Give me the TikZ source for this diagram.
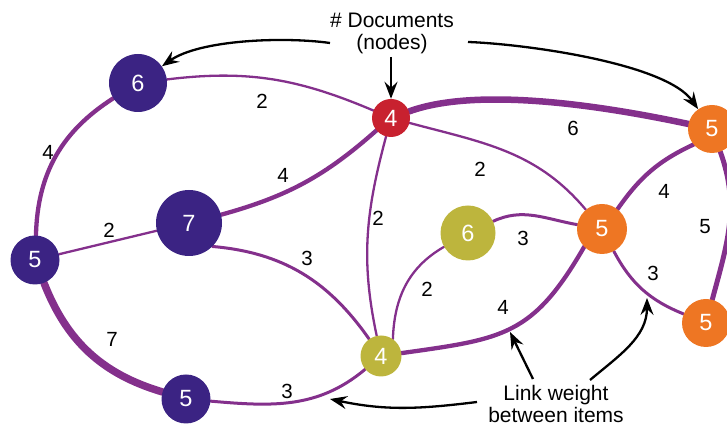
\documentclass[tikz,border=0pt]{standalone}
\usepackage{fontspec}
\setmainfont{Liberation Sans}
\usetikzlibrary{arrows.meta,backgrounds}
\definecolor{navy}{HTML}{3B2383}
\definecolor{ruby}{HTML}{C8212F}
\definecolor{tangerine}{HTML}{EE7623}
\definecolor{oliv}{HTML}{BDB53D}
\definecolor{edgec}{HTML}{84308C}
\begin{document}
\begin{tikzpicture}[x=1pt,y=1pt,
  doc/.style={circle,inner sep=0pt,text=white,font=\fontsize{23.5}{23.5}\selectfont},
  lbl/.style={inner sep=0pt,font=\fontsize{20.5}{20.5}\selectfont},
  note/.style={inner sep=0pt,align=center,font=\fontsize{21}{22}\selectfont},
  link/.style={draw=edgec,line cap=round},
  w2/.style={link,line width=2.3pt},
  w3/.style={link,line width=3pt},
  w4/.style={link,line width=4.3pt},
  w5/.style={link,line width=5pt},
  w6/.style={link,line width=6.5pt},
  w7/.style={link,line width=7.5pt},
  arr/.style={draw=black,line width=2.3pt,-{Stealth[length=17pt,width=13pt,inset=6pt]}}]
\useasboundingbox (0,0) rectangle (727,427);
% document nodes
\node[doc,fill=navy,minimum size=58pt] (A) at (138,344) {6};
\node[doc,fill=ruby,minimum size=38pt] (B) at (391,309) {4};
\node[doc,fill=tangerine,minimum size=48pt] (C) at (712,298) {5};
\node[doc,fill=navy,minimum size=66pt] (D) at (189,204) {7};
\node[doc,fill=navy,minimum size=49pt] (E) at (35,167) {5};
\node[doc,fill=oliv,minimum size=55pt] (F) at (468,194) {6};
\node[doc,fill=tangerine,minimum size=50pt] (G) at (602,198) {5};
\node[doc,fill=tangerine,minimum size=48pt] (H) at (706,104) {5};
\node[doc,fill=oliv,minimum size=41pt] (I) at (381,71) {4};
\node[doc,fill=navy,minimum size=49pt] (J) at (186,28) {5};
% links
\begin{scope}[on background layer]
\draw[w2] (A) to[out=7,in=157] (B);
\draw[w4] (A) to[bend right=28] (E);
\draw[w4] (B) to[bend left=13] (D);
\draw[w6] (B) to[out=20,in=168,looseness=0.7] (C);
\draw[w2] (B) to[out=-15,in=130] (G);
\draw[w2] (B) to[out=-105,in=102] (I);
\draw[w2] (E) -- (D);
\draw[w3] (D.-45) to[out=-5,in=125] (I);
\draw[w7] (E) to[bend right=26] (J);
\draw[w3] (J) to[out=-5,in=-140] (I);
\draw[w2] (F) to[out=-150,in=88] (I.55);
\draw[w3] (F) to[out=25,in=170] (G);
\draw[w4] (I) to[out=8,in=-120,looseness=1.25] (G.-135);
\draw[w4] (G.52) to[out=55,in=-155] (C.-140);
\draw[w3] (G) to[out=-62,in=158] (H);
\draw[w5] (C) to[out=-70,in=75] (H);
\end{scope}
% weights
\node[lbl] (lAB) at (262,326) {2};
\node[lbl] (lAE) at (48,275) {4};
\node[lbl] (lBD) at (283,252) {4};
\node[lbl] (lBC) at (573,299) {6};
\node[lbl] (lBG) at (480,258) {2};
\node[lbl] (lBI) at (378,209) {2};
\node[lbl] (lED) at (109,197) {2};
\node[lbl] (lDI) at (307,169) {3};
\node[lbl] (lEJ) at (112,88) {7};
\node[lbl] (lJI) at (287,36) {3};
\node[lbl] (lFI) at (427,138) {2};
\node[lbl] (lFG) at (523,189) {3};
\node[lbl] (lIG) at (503,120) {4};
\node[lbl] (lGC) at (664,236) {4};
\node[lbl] (lCH) at (705,200) {5};
\node[lbl] (lGH) at (653,154) {3};
% annotations
\node[note] (docs) at (392,393.9) {\# Documents\\(nodes)};
\node[note] (lw) at (556,23.5) {Link weight\\between items};
\coordinate (cDL) at (330,384);
\coordinate (cDR) at (468,385);
\coordinate (cDD) at (391,370);
\coordinate (cLa1) at (533,48);
\coordinate (cLa2) at (510,95);
\coordinate (cLb1) at (590,47);
\coordinate (cLb2) at (647,129);
\coordinate (cLc1) at (477,25);
\coordinate (cLc2) at (330,28);
\draw[arr] (cDL) to[out=172,in=35,looseness=0.7] (A);
\draw[arr] (cDD) -- (B);
\draw[arr] (cDR) to[out=-2,in=125,looseness=0.6] (C);
\draw[arr] (cLa1) -- (cLa2);
\draw[arr] (cLb1) to[out=40,in=-90] (cLb2);
\draw[arr] (cLc1) to[out=187,in=-12] (cLc2);
\end{tikzpicture}
\end{document}
